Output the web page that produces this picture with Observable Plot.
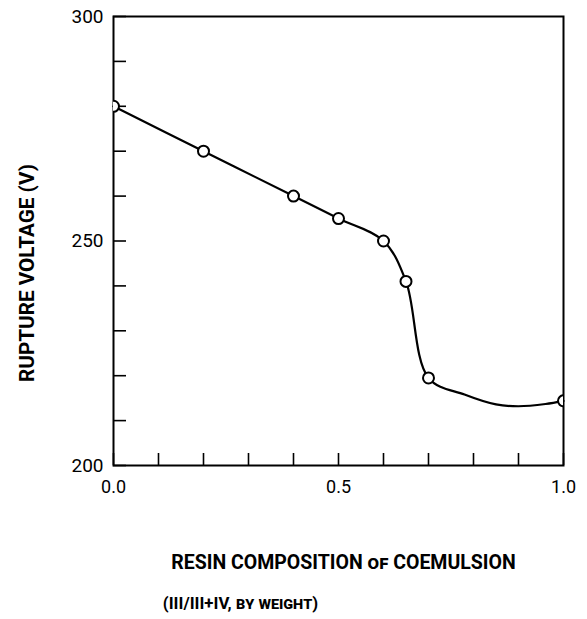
<!DOCTYPE html>
<html>
<head>
<meta charset="utf-8">
<script src="https://cdn.jsdelivr.net/npm/d3@7"></script>
<script src="https://cdn.jsdelivr.net/npm/@observablehq/plot@0.6"></script>
<style>
  html, body { margin: 0; padding: 0; background: #fff; }
  svg { display: block; }
</style>
</head>
<body>
<div id="chart"></div>
<script>
const composition = [0.0, 0.2, 0.4, 0.5, 0.6, 0.65, 0.7, 1.0];
const ruptureVoltage = [280, 270, 260, 255, 250, 241, 219.5, 214.4];

// Drawn smooth curve (passes the points, dips near 0.9)
const curveComposition = [0.0, 0.2, 0.4, 0.5, 0.6, 0.65, 0.7, 0.78, 0.85, 0.9, 0.96, 1.0];
const curveVoltage = [280, 270, 260, 255, 250, 241, 219.5, 215.8, 213.6, 213.2, 213.7, 214.4];

const xTicks = [0, 0.1, 0.2, 0.3, 0.4, 0.5, 0.6, 0.7, 0.8, 0.9, 1.0];
const xTickLabels = [0.0, 0.5, 1.0];
const yTicks = [200, 210, 220, 230, 240, 250, 260, 270, 280, 290, 300];
const yTickLabels = [200, 250, 300];

const xTitle1 = "RESIN COMPOSITION of COEMULSION";
const xTitle2 = "(III/III+IV, by weight)";
const yTitle = "RUPTURE VOLTAGE (V)";

const points = composition.map((c, i) => ({x: c, y: ruptureVoltage[i]}));
const curve = curveComposition.map((c, i) => ({x: c, y: curveVoltage[i]}));

const FONT = "Roboto, 'DejaVu Sans', sans-serif";

const chart = Plot.plot({
  width: 587,
  height: 619,
  marginLeft: 113,
  marginRight: 24,
  marginTop: 16,
  marginBottom: 154,
  style: {fontFamily: FONT, color: "#000", background: "#fff"},
  x: {domain: [0, 1]},
  y: {domain: [200, 300]},
  marks: [
    Plot.frame({stroke: "#000", strokeWidth: 2}),
    // inward ticks
    Plot.axisX({ticks: xTicks, tickSize: -12, tickFormat: () => "", strokeWidth: 1.6, anchor: "bottom", label: null}),
    Plot.axisY({ticks: yTicks, tickSize: -13, tickFormat: () => "", strokeWidth: 1.6, anchor: "left", label: null}),
    // tick labels
    Plot.axisX({ticks: xTickLabels, tickSize: 0, tickPadding: 15, tickFormat: d3.format(".1f"), fontSize: 18, anchor: "bottom", label: null}),
    Plot.axisY({ticks: yTickLabels, tickSize: 0, tickPadding: 10, fontSize: 19, anchor: "left", label: null}),
    // curve and points
    Plot.line(curve, {x: "x", y: "y", curve: "catmull-rom", stroke: "#000", strokeWidth: 2.2}),
    Plot.dot(points, {x: "x", y: "y", r: 5.5, fill: "#fff", stroke: "#000", strokeWidth: 2, clip: true}),
    // titles
    Plot.text([xTitle1], {frameAnchor: "bottom", dx: 5, dy: 97, fontSize: 19.5, fontWeight: "bold", fontVariant: "small-caps", textAnchor: "middle", lineAnchor: "middle"}),
    Plot.text([xTitle2], {frameAnchor: "bottom", dx: -98, dy: 138, fontSize: 16.8, fontWeight: "bold", fontVariant: "small-caps", textAnchor: "middle", lineAnchor: "middle"}),
    Plot.text([yTitle], {frameAnchor: "left", dx: -86, dy: 32, rotate: -90, fontSize: 20.7, fontWeight: "bold", textAnchor: "middle", lineAnchor: "middle"})
  ]
});

document.getElementById("chart").appendChild(chart);
</script>
</body>
</html>
